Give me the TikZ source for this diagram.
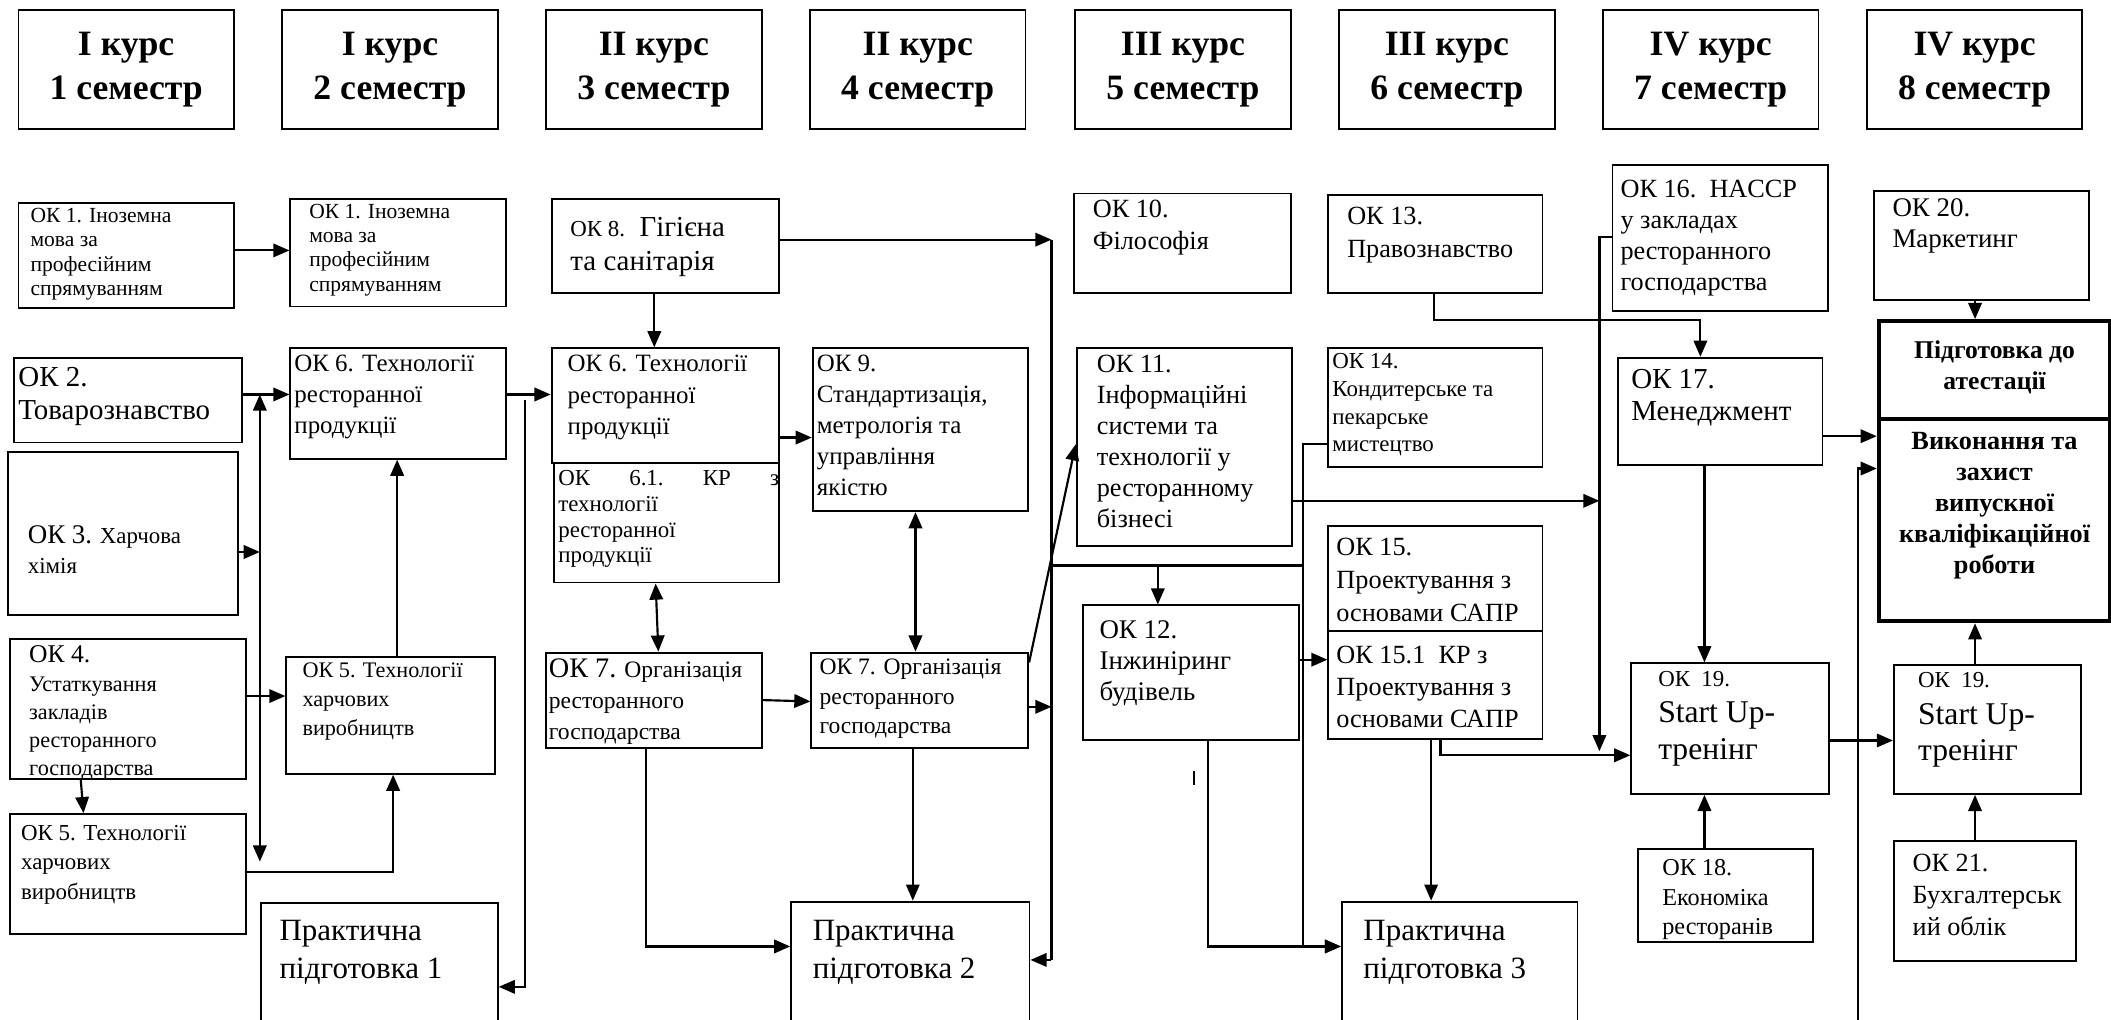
\documentclass[tikz,border=0pt]{standalone}
\usepackage{fontspec}
\setmainfont{Liberation Serif}
\usetikzlibrary{arrows.meta}

\newcommand{\fs}[2]{\fontsize{#1}{#2}\selectfont}
% box text: width, height, left pad, top pad, text
\newcommand{\tb}[5]{\parbox[t][#2pt][t]{#1pt}{\raggedright\leftskip=#3pt\relax\vspace*{#4pt}#5\par}}

\begin{document}
\begin{tikzpicture}[x=1pt, y=-1pt,
  >={Triangle[length=12pt,width=10pt]},
  box/.style={draw, line width=1.4pt, inner sep=0pt, anchor=north west},
  hdr/.style={draw, line width=1.4pt, inner sep=0pt, anchor=north west,
    minimum width=160pt, minimum height=88pt, align=center, font=\bfseries\fs{26.5}{32}},
  att/.style={box, line width=3pt},
  ln/.style={line width=1.6pt},
  arr/.style={->, line width=1.6pt},
  dbl/.style={<->, line width=1.6pt}]
\clip (0,0) rectangle (1568,757);

% Semesters
\node[hdr] (s1) at (13,7) {I курс\\1 семестр};
\node[hdr] (s2) at (209,7) {I курс\\2 семестр};
\node[hdr] (s3) at (405,7) {II курс\\3 семестр};
\node[hdr] (s4) at (601,7) {II курс\\4 семестр};
\node[hdr] (s5) at (798,7) {III курс\\5 семестр};
\node[hdr] (s6) at (994,7) {III курс\\6 семестр};
\node[hdr] (s7) at (1190,7) {IV курс\\7 семестр};
\node[hdr] (s8) at (1386,7) {IV курс\\8 семестр};

% 1 semester
\node[box] (ok1a) at (13,150) {\tb{160}{78}{9}{4}{\fs{16}{18}ОК 1. Іноземна\\мова за\\професійним\\спрямуванням}};
\node[box] (ok2) at (10,265) {\tb{169}{63}{3}{7}{\fs{21.5}{25}ОК 2.\\Товарознавство}};
\node[box] (ok3) at (5,335) {\tb{171}{121}{15}{55}{\fs{17}{22}{\fs{20}{22}ОК 3.} Харчова\\хімія}};
\node[box] (ok4) at (7,474) {\tb{175}{104}{14}{5}{\fs{16.5}{21}{\fs{19}{21}ОК 4.}\\Устаткування\\закладів\\ресторанного\\господарства}};
\node[box] (ok5b) at (7,604) {\tb{175}{89}{8}{8}{\fs{17}{22}ОК 5. Технології\\харчових\\виробництв}};

% 2 semester
\node[box] (ok1b) at (215,147) {\tb{160}{80}{14}{4}{\fs{16}{18}ОК 1. Іноземна\\мова за\\професійним\\спрямуванням}};
\node[box] (ok6a) at (215,258) {\tb{160}{82}{3}{5}{\fs{18.5}{23}ОК 6. Технології\\ресторанної\\продукції}};
\node[box] (ok5a) at (212,487) {\tb{155}{87}{12}{4.5}{\fs{16.5}{21.5}ОК 5. Технології\\харчових\\виробництв}};
\node[box] (pr1) at (193,670) {\tb{176}{100}{14}{13}{\fs{23}{28}Практична\\підготовка 1}};

% 3 semester
\node[box] (ok8) at (409,147) {\tb{169}{70}{14}{14}{\fs{21.5}{25}{\fs{17}{25}ОК 8.}\ \ Гігієна\\та санітарія}};
\node[box] (ok6b) at (409,258) {\tb{169}{85}{12}{5}{\fs{18.5}{23.5}ОК 6. Технології\\ресторанної\\продукції}};
\node[box] (ok61) at (411,343) {\tb{167}{89}{3}{6}{\fs{17}{19}ОК\hspace{\fill}6.1.\hspace{\fill}КР\hspace{\fill}з\\технології\\ресторанної\\продукції}};
\node[box] (ok7a) at (405,484) {\tb{160}{71}{2}{4.6}{\fs{17.5}{23}{\fs{21}{23}ОК 7.} Організація\\ресторанного\\господарства}};

% 4 semester
\node[box] (ok9) at (603,258) {\tb{160}{121}{3}{5}{\fs{18.5}{23}ОК 9.\\Стандартизація,\\метрологія та\\управління\\якістю}};
\node[box] (ok7b) at (602,484) {\tb{161}{71}{6}{4.7}{\fs{17.5}{22}ОК 7. Організація\\ресторанного\\господарства}};
\node[box] (pr2) at (587,669) {\tb{177}{100}{16}{14}{\fs{23}{28}Практична\\підготовка 2}};

% 5 semester
\node[box] (ok10) at (797,143) {\tb{161}{74}{14}{5}{\fs{19.5}{24}ОК 10.\\Філософія}};
\node[box] (ok11) at (799,258) {\tb{160}{147}{15}{5}{\fs{19.5}{23}ОК 11.\\Інформаційні\\системи та\\технології у\\ресторанному\\бізнесі}};
\node[box] (ok12) at (804,449) {\tb{160}{100}{12}{11}{\fs{20}{23}ОК 12.\\Інжиніринг\\будівель}};

% 6 semester
\node[box] (ok13) at (986,144) {\tb{159}{73}{14}{9}{\fs{19.5}{25}ОК 13.\\Правознавство}};
\node[box] (ok14) at (986,258) {\tb{159}{88}{3}{4}{\fs{17}{20.5}ОК 14.\\Кондитерське та\\пекарське\\мистецтво}};
\node[box] (ok15) at (986,390) {\tb{159}{78}{6}{9}{\fs{19.5}{24.5}ОК 15.\\Проектування з\\основами САПР}};
\node[box] (ok151) at (986,468) {\tb{159}{80}{6}{11}{\fs{19.5}{24}ОК 15.1\ \ КР з\\Проектування з\\основами САПР}};
\node[box] (pr3) at (996,669) {\tb{175}{100}{16}{14}{\fs{23}{28}Практична\\підготовка 3}};

% 7 semester
\node[box] (ok16) at (1197,122) {\tb{160}{108}{6}{11}{\fs{19.5}{23}ОК 16.\ \ HACCP\\у закладах\\ресторанного\\господарства}};
\node[box] (ok17) at (1201,265) {\tb{152}{80}{10}{8.5}{\fs{21.5}{24}ОК 17.\\Менеджмент}};
\node[box] (ok19a) at (1211,492) {\tb{147}{97}{20}{6}{\fs{23.5}{27}{\fs{17}{27}ОК\ \ 19.}\\Start Up-\\тренінг}};
\node[box] (ok18) at (1216,630) {\tb{130}{69}{18}{7.8}{\fs{18}{22}ОК 18.\\Економіка\\ресторанів}};

% 8 semester
\node[box] (ok20) at (1391,141) {\tb{160}{81}{14}{6}{\fs{20}{23}ОК 20.\\Маркетинг}};
\node[att] (att1) at (1394,237) {\tb{172}{73}{0}{14.7}{\centering\bfseries\fs{19}{23}Підготовка до\\атестації}};
\node[att] (att2) at (1394,310) {\tb{172}{150}{0}{9.7}{\centering\bfseries\fs{19.5}{23}Виконання та\\захист\\випускної\\кваліфікаційної\\роботи}};
\node[box] (ok19b) at (1406,493) {\tb{139}{96}{18}{6}{\fs{23.5}{27}{\fs{17}{27}ОК\ \ 19.}\\Start Up-\\тренінг}};
\node[box] (ok21) at (1406,624) {\tb{135}{89}{14}{10}{\fs{19.5}{23.5}ОК 21.\\Бухгалтерськ\\ий облік}};

% Bus lines
\coordinate (lbus-top) at (193,293);
\coordinate (lbus-bot) at (193,640);
\coordinate (mbus) at (390,297);
\coordinate (bus-top) at (781,178);
\coordinate (bus-bot) at (781,713);
\coordinate (k14) at (968,420);
\coordinate (k13) at (1263,238);
\coordinate (v16) at (1188,558);
\coordinate (v20) at (1380,760);

% 1-2 semester links
\draw[arr] (ok1a.east |- 0,186) -- (ok1b.west |- 0,186);
\draw[arr] (ok2.east |- lbus-top) -- (ok6a.west |- lbus-top);
\draw[dbl] (lbus-top) -- (lbus-bot);
\draw[arr] (ok3.east |- 0,410) -- (lbus-top |- 0,410);
\draw[arr] (ok4.east |- 0,517) -- (ok5a.west |- 0,517);
\draw[arr] (ok4.south -| 60,0) -- (ok5b.north -| 62,0);
\draw[arr] (ok5b.east |- 0,648) -| (ok5a.south -| 292,0);
\draw[arr] (ok5a.north -| 295,0) -- (ok6a.south -| 295,0);
\draw[arr] (ok6a.east |- 0,293) -- (ok6b.west |- 0,293);
\draw[arr] (mbus) |- (pr1.east |- 0,733);

% 3-4 semester links
\draw[arr] (ok8.south -| 486,0) -- (ok6b.north -| 486,0);
\draw[arr] (ok8.east |- bus-top) -- (bus-top);
\draw[arr] (ok6b.east |- 0,325) -- (ok9.west |- 0,325);
\draw[dbl] (ok61.south -| 487,0) -- (ok7a.north -| 489,0);
\draw[dbl] (ok9.south -| 680,0) -- (ok7b.north -| 680,0);
\draw[arr] (ok7a.east |- 0,520) -- (ok7b.west |- 0,521);
\draw[arr] (ok7a.south -| 480,0) |- (pr2.west |- 0,703);
\draw[arr] (ok7b.south -| 678,0) -- (pr2.north -| 678,0);
\draw[arr] (ok7b.east |- 0,525) -- (bus-top |- 0,525);
\draw[ln] (bus-top) -- (bus-bot);
\draw[arr] (bus-bot) -- (pr2.east |- bus-bot);

% 5-6 semester links
\draw[arr] (ok7b.east |- 0,492) -- (ok11.west |- 0,330);
\draw[ln] (bus-top |- k14) -- (k14);
\draw[arr] (k14 -| 860,0) -- (ok12.north -| 860,0);
\draw[arr] (ok14.west |- 0,330) -| (k14) |- (pr3.west |- 0,703);
\draw[arr] (ok12.east |- 0,490) -- (ok151.west |- 0,490);
\draw[arr] (ok12.south -| 897,0) |- (pr3.west |- 0,703);
\draw[ln] (887,573) -- (887,583);
\draw[arr] (ok151.south -| 1063,0) -- (pr3.north -| 1063,0);
\draw[arr] (ok11.east |- 0,372) -- (v16 |- 0,372);

% 7-8 semester links
\draw[arr] (ok16.west |- 0,176) -| (v16);
\draw[arr] (ok151.south -| 1070,0) |- (ok19a.west |- 0,561);
\draw[arr] (ok13.south -| 1065,0) |- (k13) -- (ok17.north -| k13);
\draw[arr] (ok17.east |- 0,324) -- (att2.west |- 0,324);
\draw[arr] (ok17.south -| 1266,0) -- (ok19a.north -| 1266,0);
\draw[arr] (ok18.north -| 1266,0) -- (ok19a.south -| 1266,0);
\draw[arr] (ok19a.east |- 0,550) -- (ok19b.west |- 0,550);
\draw[arr] (v20) |- (att2.west |- 0,348);
\draw[arr] (ok20.south -| 1467,0) -- (att1.north -| 1467,0);
\draw[arr] (ok19b.north -| 1467,0) -- (att2.south -| 1467,0);
\draw[arr] (ok21.north -| 1467,0) -- (ok19b.south -| 1467,0);
\end{tikzpicture}
\end{document}
